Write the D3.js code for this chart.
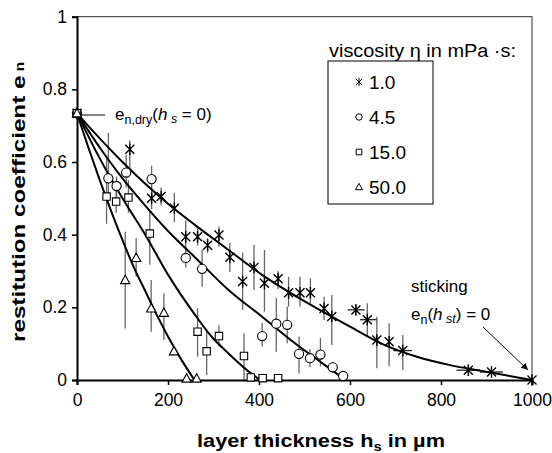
<!DOCTYPE html>
<html>
<head>
<meta charset="utf-8">
<script src="https://cdn.jsdelivr.net/npm/d3@7"></script>
<style>
  body { margin: 0; background: #fff; }
</style>
</head>
<body>
<div id="chart"></div>
<script>
// measured points, h_s in µm / e_n
const hs_10 = [0, 116, 164, 185, 214, 239, 265, 287, 312, 336, 364, 389, 412, 442, 465, 490, 513, 543, 560, 613, 638, 659, 686, 716, 860, 911, 1000];
const en_10 = [0.734, 0.635, 0.500, 0.505, 0.473, 0.394, 0.394, 0.371, 0.399, 0.338, 0.271, 0.310, 0.266, 0.279, 0.240, 0.240, 0.240, 0.197, 0.175, 0.193, 0.166, 0.110, 0.105, 0.081, 0.027, 0.022, 0];
const lo_10 = [null, 0.57, 0.47, 0.48, 0.435, 0.353, 0.37, 0.35, 0.367, 0.297, 0.193, 0.248, 0.188, 0.25, 0.202, 0.202, 0.21, 0.165, 0.096, 0.18, 0.119, 0.032, 0.037, 0.028, null, null, null];
const hi_10 = [null, 0.66, 0.53, 0.53, 0.515, 0.44, 0.42, 0.39, 0.422, 0.377, 0.35, 0.372, 0.358, 0.30, 0.284, 0.284, 0.28, 0.229, 0.234, 0.207, 0.211, 0.174, 0.156, 0.124, null, null, null];
// horizontal error bars of the 1.0 series: [e_n, h_lo, h_hi]
const xerr_10 = [[0.193, 595, 632], [0.166, 622, 659], [0.081, 695, 736], [0.027, 834, 886], [0.022, 886, 936]];

const hs_45 = [0, 69, 87, 108, 164, 239, 275, 407, 438, 462, 488, 512, 535, 562, 585];
const en_45 = [0.734, 0.555, 0.534, 0.571, 0.553, 0.336, 0.306, 0.121, 0.155, 0.152, 0.072, 0.060, 0.070, 0.035, 0.011];
const lo_45 = [null, 0.49, 0.50, 0.53, 0.50, 0.31, 0.257, 0.092, 0.078, 0.101, 0.018, 0.035, 0.037, 0.02, null];
const hi_45 = [null, 0.68, 0.56, 0.62, 0.59, 0.36, 0.358, 0.157, 0.226, 0.202, 0.119, 0.085, 0.116, 0.05, null];

const hs_15 = [0, 65, 86, 113, 160, 265, 285, 312, 367, 382, 408, 442];
const en_15 = [0.734, 0.505, 0.491, 0.502, 0.403, 0.133, 0.079, 0.121, 0.066, 0.007, 0.005, 0.005];
const lo_15 = [null, 0.43, 0.46, 0.46, 0.317, 0.064, 0.014, 0.092, 0.0, null, null, null];
const hi_15 = [null, 0.61, 0.52, 0.55, 0.468, 0.198, 0.138, 0.151, 0.129, null, null, null];

const hs_50 = [0, 106, 130, 163, 191, 213, 241, 263];
const en_50 = [0.734, 0.275, 0.336, 0.197, 0.185, 0.079, 0.004, 0.004];
const lo_50 = [null, 0.142, 0.284, 0.133, 0.110, null, null, null];
const hi_50 = [null, 0.408, 0.391, 0.275, 0.239, null, null, null];

// fitted curves
const fit_10 = [[0, 0.734], [50, 0.665], [100, 0.60], [150, 0.54], [200, 0.485], [259, 0.427], [333, 0.358], [406, 0.29], [479, 0.232], [540, 0.188], [600, 0.147], [673, 0.098], [747, 0.064], [820, 0.041], [893, 0.024], [1000, 0]];
const fit_45 = [[0, 0.734], [50, 0.64], [100, 0.555], [150, 0.48], [200, 0.41], [259, 0.338], [333, 0.248], [406, 0.175], [479, 0.101], [545, 0.041], [590, 0]];
const fit_15 = [[0, 0.734], [50, 0.61], [100, 0.50], [150, 0.40], [200, 0.29], [259, 0.18], [296, 0.119], [333, 0.073], [369, 0.032], [402, 0]];
const fit_50 = [[0, 0.734], [25, 0.64], [50, 0.55], [75, 0.465], [100, 0.385], [125, 0.31], [150, 0.245], [175, 0.18], [200, 0.12], [225, 0.065], [258, 0]];

const xTicks = [0, 200, 400, 600, 800, 1000];
const yTicks = [0, 0.2, 0.4, 0.6, 0.8, 1];
const legendLabels = ["1.0", "4.5", "15.0", "50.0"];

const series = [
    {kind: "star", hs: hs_10, en: en_10, lo: lo_10, hi: hi_10, fit: fit_10},
    {kind: "circle", hs: hs_45, en: en_45, lo: lo_45, hi: hi_45, fit: fit_45},
    {kind: "square", hs: hs_15, en: en_15, lo: lo_15, hi: hi_15, fit: fit_15},
    {kind: "triangle", hs: hs_50, en: en_50, lo: lo_50, hi: hi_50, fit: fit_50}
];

const W = 552, H = 453;
const svg = d3.select("#chart").append("svg")
    .attr("width", W).attr("height", H)
    .style("font-family", "'Liberation Sans', Arial, Helvetica, sans-serif");

const x = d3.scaleLinear().domain([0, 1000]).range([77, 532]);
const y = d3.scaleLinear().domain([0, 1]).range([380, 16.7]);

// plot frame (top + right)
svg.append("path")
    .attr("d", `M${x(0)},${y(1)}H${x(1000)}V${y(0)}`)
    .attr("fill", "none").attr("stroke", "#555").attr("stroke-width", 1.2);

// error bars
const eb = svg.append("g").attr("stroke", "#666").attr("stroke-width", 1.3);
series.forEach(s => {
    s.hs.forEach((h, i) => {
        if (s.lo[i] == null) return;
        eb.append("line")
            .attr("x1", x(h)).attr("x2", x(h))
            .attr("y1", y(s.lo[i])).attr("y2", y(s.hi[i]));
    });
});
xerr_10.forEach(d => {
    eb.append("line")
        .attr("stroke", "#222")
        .attr("x1", x(d[1])).attr("x2", x(d[2]))
        .attr("y1", y(d[0])).attr("y2", y(d[0]));
});

// fitted curves
const line = d3.line().x(d => x(d[0])).y(d => y(d[1])).curve(d3.curveMonotoneX);
series.forEach(s => {
    svg.append("path").attr("d", line(s.fit))
        .attr("fill", "none").attr("stroke", "#000").attr("stroke-width", 2);
});

function markerPath(kind, cx, cy, r) {
    switch (kind) {
        case "star":
            return `M${cx - r},${cy - r}L${cx + r},${cy + r}M${cx - r},${cy + r}L${cx + r},${cy - r}` +
                   `M${cx},${cy - r * 1.3}L${cx},${cy + r * 1.3}`;
        case "square":
            return `M${cx - r},${cy - r}h${2 * r}v${2 * r}h${-2 * r}Z`;
        case "triangle":
            return `M${cx},${cy - r * 1.15}L${cx + r * 1.1},${cy + r * 0.85}L${cx - r * 1.1},${cy + r * 0.85}Z`;
        default:
            return `M${cx - r},${cy}a${r},${r} 0 1,0 ${2 * r},0a${r},${r} 0 1,0 ${-2 * r},0`;
    }
}
const markerSize = {star: 4.5, circle: 4.6, square: 3.7, triangle: 4.2};

// axes
const xAxis = svg.append("g").attr("transform", `translate(0,${y(0)})`)
    .call(d3.axisBottom(x).tickValues(xTicks).tickSize(5).tickPadding(9).tickFormat(d3.format("d")));
const yAxis = svg.append("g").attr("transform", `translate(${x(0)},0)`)
    .call(d3.axisLeft(y).tickValues(yTicks).tickSize(5).tickPadding(5).tickFormat(d => d === 0 || d === 1 ? d : d3.format(".1f")(d)));
[xAxis, yAxis].forEach(a => {
    a.select(".domain").attr("stroke", "#000").attr("stroke-width", 2);
    a.selectAll(".tick line").attr("stroke", "#000").attr("stroke-width", 1.5);
    a.selectAll(".tick text").attr("fill", "#000").style("font-size", "17.5px")
        .style("font-family", "'Liberation Sans', Arial, sans-serif");
});

// markers on top
series.forEach(s => {
    const g = svg.append("g");
    s.hs.forEach((h, i) => {
        g.append("path").attr("d", markerPath(s.kind, x(h), y(s.en[i]), markerSize[s.kind]))
            .attr("fill", s.kind === "star" ? "none" : "#fff")
            .attr("stroke", "#000").attr("stroke-width", s.kind === "star" ? 1.4 : 1.1);
    });
});

// legend
svg.append("text").attr("x", 329).attr("y", 57).style("font-size", "18px")
    .attr("textLength", 187).attr("lengthAdjust", "spacingAndGlyphs")
    .text("viscosity η in mPa ·s:");
svg.append("rect").attr("x", 328).attr("y", 61).attr("width", 105).attr("height", 143)
    .attr("fill", "#fff").attr("stroke", "#000").attr("stroke-width", 1);
series.forEach((s, i) => {
    const cy = 82 + i * 35;
    const r = {star: 3.2, circle: 3.2, square: 2.8, triangle: 3.2}[s.kind];
    svg.append("path").attr("d", markerPath(s.kind, 359, cy, r))
        .attr("fill", "#fff").attr("stroke", "#000").attr("stroke-width", 1);
    svg.append("text").attr("x", 369).attr("y", cy + 6.5).style("font-size", "19px").text(legendLabels[i]);
});

// annotation: dry coefficient
svg.append("line").attr("x1", 81).attr("x2", 105).attr("y1", 115).attr("y2", 115)
    .attr("stroke", "#000").attr("stroke-width", 1);
const t1 = svg.append("text").attr("x", 115).attr("y", 120).style("font-size", "17px");
t1.append("tspan").text("e");
t1.append("tspan").attr("dy", 4).style("font-size", "12.5px").text("n,dry");
t1.append("tspan").attr("dy", -4).text("(");
t1.append("tspan").style("font-style", "italic").text("h");
t1.append("tspan").attr("dy", 3).style("font-size", "12.5px").style("font-style", "italic").text(" s");
t1.append("tspan").attr("dy", -3).text(" = 0)");

// annotation: sticking
svg.append("text").attr("x", 411).attr("y", 292).style("font-size", "17px").text("sticking");
const t2 = svg.append("text").attr("x", 411).attr("y", 320).style("font-size", "17px");
t2.append("tspan").text("e");
t2.append("tspan").attr("dy", 4).style("font-size", "12.5px").text("n");
t2.append("tspan").attr("dy", -4).text("(");
t2.append("tspan").style("font-style", "italic").text("h");
t2.append("tspan").attr("dy", 3).style("font-size", "12.5px").style("font-style", "italic").text(" st");
t2.append("tspan").attr("dy", -3).text(") = 0");

svg.append("defs").append("marker")
    .attr("id", "arrow").attr("viewBox", "0 0 10 10").attr("refX", 10).attr("refY", 5)
    .attr("markerWidth", 7).attr("markerHeight", 7).attr("orient", "auto")
    .append("path").attr("d", "M0,0L10,5L0,10Z").attr("fill", "#000");
svg.append("line").attr("x1", 483).attr("y1", 327).attr("x2", 528).attr("y2", 370)
    .attr("stroke", "#000").attr("stroke-width", 1).attr("marker-end", "url(#arrow)");

// axis titles
const xt = svg.append("text").attr("x", 321).attr("y", 447).attr("text-anchor", "middle")
    .style("font-size", "19px").style("font-weight", "bold")
    .attr("textLength", 248).attr("lengthAdjust", "spacingAndGlyphs");
xt.append("tspan").text("layer thickness h");
xt.append("tspan").attr("dy", 4).style("font-size", "13px").text("s");
xt.append("tspan").attr("dy", -4).text(" in µm");

const yt = svg.append("text").attr("transform", "translate(25,202) rotate(-90)").attr("text-anchor", "middle")
    .style("font-size", "19px").style("font-weight", "bold")
    .attr("textLength", 280).attr("lengthAdjust", "spacingAndGlyphs");
yt.append("tspan").text("restitution coefficient e");
yt.append("tspan").attr("dy", -1).style("font-size", "12px").text(" n");
</script>
</body>
</html>
